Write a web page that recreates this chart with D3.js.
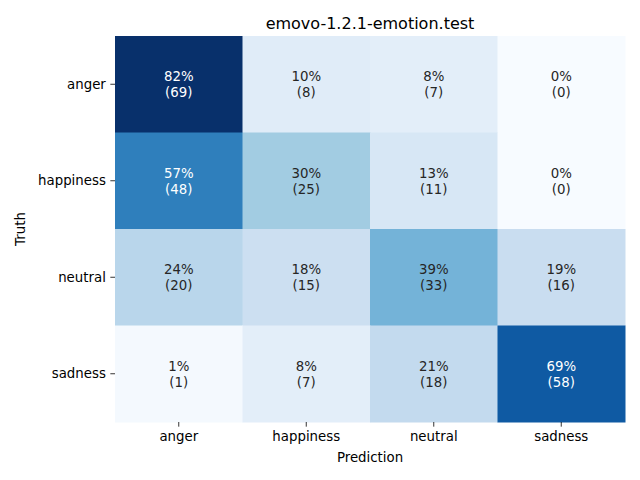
<!DOCTYPE html>
<html><head><meta charset="utf-8">
<script src="https://cdn.jsdelivr.net/npm/d3@7"></script>
<style>body{margin:0;background:#fff}svg{display:block}text{font-family:"DejaVu Sans",sans-serif}</style>
</head><body>
<svg id="c" width="640" height="480"></svg>
<script>
const title = "emovo-1.2.1-emotion.test";
const truthLabels = ["anger","happiness","neutral","sadness"];
const predLabels = ["anger","happiness","neutral","sadness"];
const counts = [
  [69, 8, 7, 0],
  [48, 25, 11, 0],
  [20, 15, 33, 16],
  [1, 7, 18, 58]
];
const xAxisTitle = "Prediction";
const yAxisTitle = "Truth";

const svg = d3.select("#c");
const L = 115, R = 625, T = 36, B = 422;
const x = d3.scaleBand().domain(predLabels).range([L, R]);
const y = d3.scaleBand().domain(truthLabels).range([T, B]);

const cells = [];
counts.forEach((row, i) => {
  const tot = d3.sum(row);
  row.forEach((v, j) => cells.push({t: truthLabels[i], p: predLabels[j], v, f: v / tot}));
});
const fmax = d3.max(cells, d => d.f);
const blues = ["#f7fbff","#deebf7","#c6dbef","#9ecae1","#6baed6","#4292c6","#2171b5","#08519c","#08306b"];
const color = d3.scaleLinear().domain(blues.map((_, k) => k / 8 * fmax)).range(blues).clamp(true);

function lum(c) {
  const rgb = d3.rgb(c);
  const f = v => { v /= 255; return v <= 0.03928 ? v / 12.92 : Math.pow((v + 0.055) / 1.055, 2.4); };
  return 0.2126 * f(rgb.r) + 0.7152 * f(rgb.g) + 0.0722 * f(rgb.b);
}

svg.append("g").selectAll("rect").data(cells).join("rect")
  .attr("x", d => x(d.p)).attr("y", d => y(d.t))
  .attr("width", x.bandwidth() + 0.5).attr("height", y.bandwidth() + 0.5)
  .attr("fill", d => color(d.f));

const ann = svg.append("g").selectAll("text").data(cells).join("text")
  .attr("text-anchor", "middle")
  .attr("font-size", "13.33px")
  .attr("fill", d => lum(color(d.f)) > 0.408 ? "#262626" : "#ffffff");
ann.append("tspan").attr("x", d => x(d.p) + x.bandwidth() / 2).attr("y", d => y(d.t) + y.bandwidth() / 2 - 3)
  .text(d => Math.round(d.f * 100) + "%");
ann.append("tspan").attr("x", d => x(d.p) + x.bandwidth() / 2).attr("y", d => y(d.t) + y.bandwidth() / 2 + 13)
  .text(d => "(" + d.v + ")");

const xa = svg.append("g").attr("transform", `translate(0,${B})`)
  .call(d3.axisBottom(x).tickSize(4.67).tickPadding(4.5));
const ya = svg.append("g").attr("transform", `translate(${L},0)`)
  .call(d3.axisLeft(y).tickSize(4.67).tickPadding(4.5));
[xa, ya].forEach(a => {
  a.select(".domain").remove();
  a.selectAll("line").attr("stroke", "#000").attr("stroke-width", 0.8);
  a.selectAll("text").attr("font-size", "13.33px").attr("fill", "#000").attr("font-family", "DejaVu Sans, sans-serif");
});

svg.append("text").attr("x", (L + R) / 2).attr("y", 29).attr("text-anchor", "middle")
  .attr("font-size", "16px").attr("fill", "#000").text(title);
svg.append("text").attr("x", (L + R) / 2).attr("y", 462).attr("text-anchor", "middle")
  .attr("font-size", "13.33px").attr("fill", "#000").text(xAxisTitle);
svg.append("text").attr("transform", `translate(25,${(T + B) / 2}) rotate(-90)`).attr("text-anchor", "middle")
  .attr("font-size", "13.33px").attr("fill", "#000").text(yAxisTitle);
</script>
</body></html>
